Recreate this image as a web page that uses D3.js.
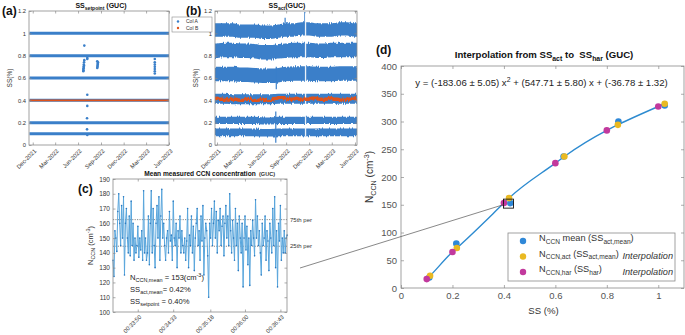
<!DOCTYPE html>
<html>
<head>
<meta charset="utf-8">
<script src="https://cdn.jsdelivr.net/npm/d3@7"></script>
<style>
  body { margin: 0; background: #fff; }
  svg { font-family: "Liberation Sans", Arial, sans-serif; display: block; }
  text { white-space: pre; }
</style>
</head>
<body>
<div id="chart"></div>
<script>
// ---------- data ----------
// shared date ticks for (a) and (b)
const monthTicks = ["Dec-2021", "Mar-2022", "Jun-2022", "Sep-2022", "Dec-2022", "Mar-2023", "Jun-2023"];
const ssTicks = [0, 0.2, 0.4, 0.6, 0.8, 1, 1.2];

// (a) SS setpoint
const setpointColA = [0.1, 0.2, 0.4, 0.6, 0.8, 1.0];
const setpointColB = [0.4];
const setpointSpan = ["2021-11-18", "2023-06-01"];
const offDates = ["2022-06-26", "2022-06-22", "2022-06-22", "2022-06-23", "2022-06-23", "2022-06-24", "2022-06-24",
                  "2022-06-25", "2022-06-25", "2022-06-26", "2022-07-08", "2022-07-08", "2022-07-08", "2022-07-08",
                  "2022-07-07", "2022-07-07", "2022-07-08",
                  "2022-08-17", "2022-08-18", "2022-08-18", "2022-08-19", "2022-08-19", "2022-08-20", "2022-08-17",
                  "2023-04-05", "2023-04-05", "2023-04-05", "2023-04-05", "2023-04-05", "2023-04-05", "2023-04-05"];
const offValues = [0.89, 0.66, 0.68, 0.67, 0.70, 0.69, 0.72, 0.71, 0.74, 0.76, 0.78, 0.77, 0.45, 0.35,
                   0.24, 0.14, 0.09,
                   0.69, 0.70, 0.71, 0.72, 0.73, 0.74, 0.75,
                   0.64, 0.66, 0.68, 0.70, 0.72, 0.74, 0.77];

// (b) SS act: monthly band centres (Nov-2021 .. Jul-2023) and spreads
const bandMonths = ["2021-11", "2021-12", "2022-01", "2022-02", "2022-03", "2022-04", "2022-05", "2022-06", "2022-07",
                    "2022-08", "2022-09", "2022-10", "2022-11", "2022-12", "2023-01", "2023-02", "2023-03", "2023-04",
                    "2023-05", "2023-06", "2023-07"];
const act100 = [1.03, 1.03, 1.03, 1.03, 1.02, 1.02, 1.02, 1.01, 1.01, 1.02, 1.03, 1.03, 1.04, 1.04, 1.03, 1.03, 1.03, 1.04, 1.04, 1.03, 1.03];
const act080 = [0.845, 0.845, 0.85, 0.85, 0.845, 0.845, 0.84, 0.83, 0.83, 0.84, 0.845, 0.85, 0.85, 0.85, 0.845, 0.845, 0.85, 0.85, 0.85, 0.85, 0.85];
const act060 = [0.635, 0.635, 0.635, 0.635, 0.63, 0.63, 0.625, 0.62, 0.62, 0.625, 0.635, 0.64, 0.64, 0.64, 0.635, 0.635, 0.635, 0.64, 0.64, 0.64, 0.64];
const act040 = [0.415, 0.415, 0.415, 0.41, 0.41, 0.41, 0.41, 0.41, 0.41, 0.415, 0.415, 0.415, 0.415, 0.415, 0.415, 0.415, 0.415, 0.415, 0.415, 0.415, 0.415];
const act020 = [0.22, 0.22, 0.22, 0.22, 0.22, 0.22, 0.22, 0.215, 0.215, 0.22, 0.22, 0.22, 0.22, 0.22, 0.22, 0.22, 0.22, 0.22, 0.22, 0.22, 0.22];
const act010 = [0.113, 0.113, 0.113, 0.113, 0.113, 0.113, 0.113, 0.11, 0.11, 0.113, 0.113, 0.113, 0.113, 0.113, 0.113, 0.113, 0.113, 0.113, 0.113, 0.113, 0.113];
const actBands = [act100, act080, act060, act040, act020, act010];
const actSpread = [0.06, 0.065, 0.065, 0.045, 0.032, 0.034];
// Col B (15-day samples from 2021-11-15)
const actColB = [0.41, 0.42, 0.41, 0.41, 0.40, 0.41, 0.41, 0.40, 0.40, 0.41, 0.41, 0.40, 0.40, 0.41, 0.40, 0.39,
                 0.41, 0.42, 0.43, 0.42, 0.41, 0.41, 0.42, 0.41, 0.41, 0.41, 0.42, 0.42, 0.41, 0.41, 0.41, 0.42,
                 0.41, 0.41, 0.40, 0.41, 0.41, 0.42, 0.41, 0.41, 0.41];
const colBStart = "2021-11-15";
const colBStepDays = 15;
const spikeDates = ["2022-07-22", "2022-07-24", "2022-08-28", "2022-11-14"];
const spikeLow = [0.02, 0.50, 0.98, 1.05];
const spikeHigh = [0.30, 0.70, 1.14, 1.19];
const gapDates = ["2022-11-17"];
const gapRange = [0.08, 1.18];

// (c) mean measured CCN concentration
const cTickLabels = ["00:33:50", "00:34:33", "00:35:18", "00:36:00", "00:36:43"];
const cTimeDomain = ["00:33:20", "00:36:51"];
const sampleStepSec = 1.16;
const nccnSeries = [
  135, 124, 155, 150, 141, 168, 180, 160, 145, 172,
  150, 178, 125, 160, 170, 150, 140, 165, 138, 175,
  145, 160, 135, 150, 140, 145, 158, 137, 150, 142,
  155, 135, 182, 140, 150, 135, 140, 165, 132, 160,
  182, 140, 170, 145, 130, 160, 172, 150, 178, 135,
  165, 183, 150, 160, 145, 135, 150, 155, 140, 168,
  148, 152, 135, 175, 150, 145, 160, 130, 155, 150,
  165, 140, 155, 145, 140, 150, 135, 148, 170, 130,
  152, 145, 165, 140, 158, 128, 150, 160, 170, 145,
  155, 135, 165, 148, 172, 125, 150, 160, 155, 138,
  110, 160, 150, 170, 145, 160, 175, 150, 168, 140,
  162, 155, 170, 145, 158, 165, 138, 160, 172, 150,
  165, 145, 180, 155, 140, 162, 150, 135, 170, 145,
  160, 128, 165, 150, 140, 160, 117, 150, 165, 142,
  158, 132, 150, 118, 155, 145, 162, 150, 138, 176,
  150, 165, 145, 155, 140, 125, 160, 145, 150, 165,
  135, 155, 148, 128, 160, 150, 140, 170, 145, 178,
  130, 155, 117, 160, 148, 172, 135, 150, 140, 155,
  140, 150, 152
];
const pct75 = 162.5;
const pct25 = 144.5;

// (d) interpolation
const ssActMean = [0.11, 0.215, 0.425, 0.632, 0.845, 1.025];
const nccnMean = [19, 80, 153, 237, 300, 329];
const ssActInterp = [0.113, 0.217, 0.42, 0.635, 0.843, 1.025];
const nccnActInterp = [22, 72, 162, 237, 294, 332];
const ssHar = [0.1, 0.2, 0.4, 0.6, 0.8, 1.0];
const nccnHar = [16, 65, 153, 225, 284, 327];
const highlight = { ss: 0.418, n: 152 };

// ---------- setup ----------
const W = 685, H = 335;
const blue = "#3a7fc9", red = "#df531b";
const dBlue = "#2f88d8", dYellow = "#e9b922", dMagenta = "#c2399d", fitBlue = "#2d8bd0";
const axisGray = "#8a8a8a", textGray = "#333";
const parseDay = d3.timeParse("%Y-%m-%d");
const parseMonthNum = d3.timeParse("%Y-%m");
const parseMonth = d3.timeParse("%b-%Y");
const fmtMonth = d3.timeFormat("%b-%Y");

const svg = d3.select("#chart").append("svg").attr("width", W).attr("height", H);
const defs = svg.append("defs");

// ragged edges for the dense SS_act bands
const rag = defs.append("filter").attr("id", "rag").attr("x", "-5%").attr("y", "-5%").attr("width", "110%").attr("height", "110%");
rag.append("feTurbulence").attr("type", "fractalNoise").attr("baseFrequency", "1.3 0.05").attr("numOctaves", 2).attr("seed", 4).attr("result", "n");
rag.append("feDisplacementMap").attr("in", "SourceGraphic").attr("in2", "n").attr("scale", 3.5)
  .attr("xChannelSelector", "R").attr("yChannelSelector", "G");

function rich(text, parts, fs) {
  let off = 0;
  parts.forEach(p => {
    const kind = p[1] || "";
    const small = kind === "sub" || kind === "sup";
    const target = kind === "sub" ? fs * 0.32 : kind === "sup" ? -fs * 0.42 : 0;
    const ts = text.append("tspan")
      .attr("dy", (target - off).toFixed(2))
      .style("font-size", (small ? fs * 0.72 : fs) + "px")
      .text(p[0]);
    if (kind === "it") ts.style("font-style", "italic");
    off = target;
  });
  return text;
}

function styleAxis(sel, fs) {
  sel.select(".domain").remove();
  sel.selectAll(".tick line").attr("stroke", axisGray).attr("stroke-width", 0.7);
  sel.selectAll(".tick text").attr("fill", textGray).style("font-size", fs + "px");
}

function frame(g, w, h) {
  g.append("rect").attr("width", w).attr("height", h)
    .attr("fill", "none").attr("stroke", axisGray).attr("stroke-width", 0.8);
}

function panelLetter(x, y, s) {
  svg.append("text").attr("x", x).attr("y", y).attr("font-weight", "bold")
    .style("font-size", "12px").attr("fill", "#111").text(s);
}

function timePanel(left, right, top, bottom, domain, id) {
  const w = right - left, h = bottom - top;
  const g = svg.append("g").attr("transform", `translate(${left},${top})`);
  const x = d3.scaleTime().domain(domain).range([0, w]);
  const y = d3.scaleLinear().domain([0, 1.2]).range([h, 0]);
  defs.append("clipPath").attr("id", id).append("rect").attr("width", w).attr("height", h);
  const plot = g.append("g").attr("clip-path", `url(#${id})`);
  return { g, plot, x, y, w, h };
}

function timeAxes(P, ylabelX) {
  const { g, x, y, w, h } = P;
  const tv = monthTicks.map(parseMonth);
  g.append("g").attr("transform", `translate(0,${h})`)
    .call(d3.axisBottom(x).tickValues(tv).tickFormat(fmtMonth).tickSize(-2.5).tickPadding(2))
    .call(s => styleAxis(s, 5.8))
    .selectAll(".tick text")
      .attr("text-anchor", "end").attr("y", 0).attr("dy", "0.35em")
      .attr("transform", "translate(2,5) rotate(-45)");
  g.append("g").call(d3.axisTop(x).tickValues(tv).tickFormat("").tickSize(-2.5)).call(s => styleAxis(s, 5.8));
  g.append("g")
    .call(d3.axisLeft(y).tickValues(ssTicks).tickFormat(d3.format("~g")).tickSize(-2.5).tickPadding(3))
    .call(s => styleAxis(s, 5.8));
  g.append("g").attr("transform", `translate(${w},0)`)
    .call(d3.axisRight(y).tickValues(ssTicks).tickFormat("").tickSize(-2.5)).call(s => styleAxis(s, 5.8));
  frame(g, w, h);
  g.append("text").attr("transform", `translate(${ylabelX},${h / 2}) rotate(-90)`)
    .attr("text-anchor", "middle").style("font-size", "6.5px").attr("fill", textGray).text("SS(%)");
}

// ---------- (a) ----------
const A = timePanel(29, 169, 11, 145, [parseDay("2021-11-16"), parseDay("2023-06-01")], "clipA");
const spanA = setpointSpan.map(parseDay);
A.plot.selectAll("line.colA").data(setpointColA).enter().append("line")
  .attr("class", "colA")
  .attr("x1", A.x(spanA[0])).attr("x2", A.x(spanA[1]))
  .attr("y1", d => A.y(d)).attr("y2", d => A.y(d))
  .attr("stroke", blue).attr("stroke-width", 3);
A.plot.selectAll("circle.off").data(offDates.map((d, i) => ({ d: parseDay(d), v: offValues[i] }))).enter()
  .append("circle").attr("class", "off")
  .attr("cx", d => A.x(d.d)).attr("cy", d => A.y(d.v)).attr("r", 1.3).attr("fill", blue);
A.plot.selectAll("line.colB").data(setpointColB).enter().append("line")
  .attr("class", "colB")
  .attr("x1", A.x(spanA[0])).attr("x2", A.x(spanA[1]))
  .attr("y1", d => A.y(d)).attr("y2", d => A.y(d))
  .attr("stroke", red).attr("stroke-width", 1.6);
timeAxes(A, -17);
rich(svg.append("text").attr("x", 101).attr("y", 8).attr("text-anchor", "middle")
  .attr("font-weight", "bold").attr("fill", "#111"), [["SS"], ["setpoint", "sub"], [" (GUC)"]], 7);
panelLetter(2, 15, "(a)");

// ---------- (b) ----------
const B = timePanel(215, 357, 11, 145, [parseDay("2021-11-23"), parseDay("2023-06-09")], "clipB");
const months = bandMonths.map(parseMonthNum);
const bandLayer = B.plot.append("g").attr("filter", "url(#rag)");
actBands.forEach((band, bi) => {
  const pts = band.map((c, i) => ({ d: months[i], c: c }));
  const hw = actSpread[bi];
  bandLayer.append("path").datum(pts)
    .attr("fill", blue)
    .attr("d", d3.area().curve(d3.curveMonotoneX).x(d => B.x(d.d))
      .y0(d => B.y(d.c - hw)).y1(d => B.y(d.c + hw)));
});
spikeDates.forEach((s, i) => {
  B.plot.append("line")
    .attr("x1", B.x(parseDay(s))).attr("x2", B.x(parseDay(s)))
    .attr("y1", B.y(spikeLow[i])).attr("y2", B.y(spikeHigh[i]))
    .attr("stroke", blue).attr("stroke-width", 1.2);
});
gapDates.forEach(s => {
  B.plot.append("line")
    .attr("x1", B.x(parseDay(s))).attr("x2", B.x(parseDay(s)))
    .attr("y1", B.y(gapRange[0])).attr("y2", B.y(gapRange[1]))
    .attr("stroke", "#fff").attr("stroke-width", 1.3).attr("opacity", 0.9);
});
const colBStartDate = parseDay(colBStart);
const colBPts = actColB.map((v, i) => ({ d: d3.timeDay.offset(colBStartDate, i * colBStepDays), v: v }));
B.plot.append("path").datum(colBPts)
  .attr("fill", "none").attr("stroke", red).attr("stroke-width", 3.4).attr("filter", "url(#rag)")
  .attr("d", d3.line().curve(d3.curveMonotoneX).x(d => B.x(d.d)).y(d => B.y(d.v)));
timeAxes(B, -17);
rich(svg.append("text").attr("x", 287).attr("y", 8).attr("text-anchor", "middle")
  .attr("font-weight", "bold").attr("fill", "#111"), [["SS"], ["act", "sub"], ["(GUC)"]], 7);
panelLetter(186, 15, "(b)");

// legend shared by (a) and (b)
const leg = svg.append("g").attr("transform", "translate(172,17)");
leg.append("rect").attr("width", 40).attr("height", 15).attr("fill", "#fff").attr("stroke", axisGray).attr("stroke-width", 0.6);
[["Col A", blue], ["Col B", red]].forEach((e, i) => {
  leg.append("circle").attr("cx", 6).attr("cy", 4.5 + i * 6.5).attr("r", 1.2).attr("fill", e[1]);
  leg.append("text").attr("x", 14).attr("y", 4.5 + i * 6.5).attr("dy", "0.35em")
    .style("font-size", "5px").attr("fill", textGray).text(e[0]);
});

// ---------- (c) ----------
const toSec = s => { const p = s.split(":").map(Number); return p[0] * 3600 + p[1] * 60 + p[2]; };
const fmtSec = s => { const m = Math.floor(s / 60), r = Math.round(s - m * 60); return "00:" + m + ":" + String(r).padStart(2, "0"); };
const cL = 113, cR = 287, cT = 179, cB = 312;
const cw = cR - cL, ch = cB - cT;
const gc = svg.append("g").attr("transform", `translate(${cL},${cT})`);
const xc = d3.scaleLinear().domain(cTimeDomain.map(toSec)).range([0, cw]);
const yc = d3.scaleLinear().domain([100, 190]).range([ch, 0]);
const t0 = toSec(cTimeDomain[0]);
const cPts = nccnSeries.map((v, i) => ({ t: t0 + i * sampleStepSec, v: v }));

[pct75, pct25].forEach(p => {
  gc.append("line").attr("x1", 0).attr("x2", cw).attr("y1", yc(p)).attr("y2", yc(p))
    .attr("stroke", "#555").attr("stroke-width", 0.7).attr("stroke-dasharray", "1.2,1.2");
});
gc.append("path").datum(cPts)
  .attr("fill", "none").attr("stroke", "#5aa6dc").attr("stroke-width", 1)
  .attr("d", d3.line().x(d => xc(d.t)).y(d => yc(d.v)));
gc.selectAll("circle.pt").data(cPts).enter().append("circle").attr("class", "pt")
  .attr("cx", d => xc(d.t)).attr("cy", d => yc(d.v)).attr("r", 0.8).attr("fill", "#2a78bf");

gc.append("g").attr("transform", `translate(0,${ch})`)
  .call(d3.axisBottom(xc).tickValues(cTickLabels.map(toSec)).tickFormat(fmtSec).tickSize(-2.5).tickPadding(2))
  .call(s => styleAxis(s, 5.8))
  .selectAll(".tick text")
    .attr("text-anchor", "end").attr("y", 0).attr("dy", "0.35em")
    .attr("transform", "translate(2,4) rotate(-45)");
gc.append("g").call(d3.axisTop(xc).tickValues(cTickLabels.map(toSec)).tickFormat("").tickSize(-2.5)).call(s => styleAxis(s, 6));
gc.append("g").call(d3.axisLeft(yc).ticks(10).tickSize(-2.5).tickPadding(3)).call(s => styleAxis(s, 6.5));
gc.append("g").attr("transform", `translate(${cw},0)`)
  .call(d3.axisRight(yc).ticks(10).tickFormat("").tickSize(-2.5)).call(s => styleAxis(s, 6.5));
frame(gc, cw, ch);

gc.append("text").attr("x", cw + 3).attr("y", yc(pct75)).attr("dy", "0.35em")
  .style("font-size", "6px").attr("fill", textGray).text("75th per");
gc.append("text").attr("x", cw + 3).attr("y", yc(pct25)).attr("dy", "0.35em")
  .style("font-size", "6px").attr("fill", textGray).text("25th per");
rich(gc.append("text").attr("transform", `translate(-20,${ch / 2}) rotate(-90)`)
  .attr("text-anchor", "middle").attr("fill", textGray), [["N"], ["CCN", "sub"], [" (cm"], ["-3", "sup"], [")"]], 7.5);
rich(gc.append("text").attr("x", 17).attr("y", 101).attr("fill", "#222"),
  [["N"], ["CCN,mean", "sub"], [" = 153(cm"], ["-3", "sup"], [")"]], 7.6);
rich(gc.append("text").attr("x", 17).attr("y", 113).attr("fill", "#222"),
  [["SS"], ["act,mean", "sub"], ["= 0.42%"]], 7.6);
rich(gc.append("text").attr("x", 17).attr("y", 125).attr("fill", "#222"),
  [["SS"], ["setpoint", "sub"], [" = 0.40%"]], 7.6);
svg.append("text").attr("x", 200).attr("y", 176).attr("text-anchor", "middle").attr("font-weight", "bold")
  .style("font-size", "6.6px").attr("fill", "#111").text("Mean measured CCN concentration");
svg.append("text").attr("x", 259).attr("y", 176).attr("font-weight", "bold")
  .style("font-size", "5.6px").attr("fill", "#333").text("(GUC)");
panelLetter(78, 193, "(c)");

// ---------- (d) ----------
const dL = 401, dR = 684, dT = 66, dB = 288;
const dw = dR - dL, dh = dB - dT;
const gd = svg.append("g").attr("transform", `translate(${dL},${dT})`);
const xd = d3.scaleLinear().domain([0, 1.1]).range([0, dw]);
const yd = d3.scaleLinear().domain([0, 400]).range([dh, 0]);

gd.append("g").attr("transform", `translate(0,${dh})`)
  .call(d3.axisBottom(xd).tickValues([0, 0.2, 0.4, 0.6, 0.8, 1]).tickFormat(d3.format("~g")).tickSize(-3).tickPadding(4))
  .call(s => styleAxis(s, 9.5));
gd.append("g").call(d3.axisTop(xd).tickValues([0, 0.2, 0.4, 0.6, 0.8, 1]).tickFormat("").tickSize(-3)).call(s => styleAxis(s, 9.5));
gd.append("g").call(d3.axisLeft(yd).ticks(8).tickSize(-3).tickPadding(4)).call(s => styleAxis(s, 9.5));
gd.append("g").attr("transform", `translate(${dw},0)`)
  .call(d3.axisRight(yd).ticks(8).tickFormat("").tickSize(-3)).call(s => styleAxis(s, 9.5));
frame(gd, dw, dh);
gd.selectAll(".tick text").attr("fill", "#555");

// fitted curve through the interpolated points
const fitPts = ssHar.map((s, i) => ({ s: s, n: nccnHar[i] }))
  .concat(ssActInterp.map((s, i) => ({ s: s, n: nccnActInterp[i] })))
  .sort((a, b) => a.s - b.s);
gd.append("path").datum(fitPts)
  .attr("fill", "none").attr("stroke", fitBlue).attr("stroke-width", 1.4)
  .attr("d", d3.line().curve(d3.curveMonotoneX).x(d => xd(d.s)).y(d => yd(d.n)));

const series = [
  { xs: ssActMean, ys: nccnMean, c: dBlue },
  { xs: ssActInterp, ys: nccnActInterp, c: dYellow },
  { xs: ssHar, ys: nccnHar, c: dMagenta }
];
series.forEach(sr => {
  gd.selectAll(null).data(sr.xs.map((s, i) => [s, sr.ys[i]])).enter().append("circle")
    .attr("cx", d => xd(d[0])).attr("cy", d => yd(d[1])).attr("r", 3.3).attr("fill", sr.c);
});

// highlighted point and link to (c)
const hx = xd(highlight.ss), hy = yd(highlight.n);
gd.append("rect").attr("x", hx - 5).attr("y", hy - 4.5).attr("width", 10).attr("height", 9)
  .attr("fill", "none").attr("stroke", "#111").attr("stroke-width", 0.9);
svg.append("line").attr("x1", cR + 13).attr("y1", 268).attr("x2", dL + hx - 5).attr("y2", dT + hy + 1)
  .attr("stroke", "#555").attr("stroke-width", 0.7);

// legend
const lg = gd.append("g").attr("transform", `translate(${508 - dL},${233 - dT})`);
lg.append("rect").attr("width", 167).attr("height", 48).attr("fill", "#fff").attr("stroke", axisGray).attr("stroke-width", 0.8);
const legRows = [
  { c: dBlue, parts: [["N"], ["CCN", "sub"], [" mean (SS"], ["act,mean", "sub"], [")"]], it: "" },
  { c: dYellow, parts: [["N"], ["CCN,act", "sub"], [" (SS"], ["act,mean", "sub"], [")"]], it: "Interpolation" },
  { c: dMagenta, parts: [["N"], ["CCN,har", "sub"], [" (SS"], ["har", "sub"], [")"]], it: "Interpolation" }
];
legRows.forEach((r, i) => {
  const yy = 8 + i * 15.5;
  lg.append("circle").attr("cx", 15).attr("cy", yy).attr("r", 3.2).attr("fill", r.c);
  rich(lg.append("text").attr("x", 31).attr("y", yy).attr("dy", "0.3em").attr("fill", "#333"), r.parts, 9.2);
  if (r.it) lg.append("text").attr("x", 165).attr("y", yy).attr("dy", "0.3em").attr("text-anchor", "end")
    .style("font-size", "9.2px").style("font-style", "italic").attr("fill", "#333").text(r.it);
});

rich(gd.append("text").attr("x", dw / 2 - 1).attr("y", 20).attr("text-anchor", "middle").attr("fill", "#222"),
  [["y = (-183.06 \u00b1 5.05) x"], ["2", "sup"], [" + (547.71 \u00b1 5.80) x + (-36.78 \u00b1 1.32)"]], 9.6);
rich(svg.append("text").attr("x", 544).attr("y", 58).attr("text-anchor", "middle").attr("font-weight", "bold").attr("fill", "#111"),
  [["Interpolation from SS"], ["act", "sub"], [" to  SS"], ["har", "sub"], [" (GUC)"]], 9.6);
rich(svg.append("text").attr("transform", `translate(373,${dT + dh / 2}) rotate(-90)`)
  .attr("text-anchor", "middle").attr("fill", "#333"), [["N"], ["CCN", "sub"], [" (cm"], ["-3", "sup"], [")"]], 10);
svg.append("text").attr("x", dL + dw / 2 + 1).attr("y", 314).attr("text-anchor", "middle")
  .style("font-size", "9.6px").attr("fill", "#333").text("SS (%)");
panelLetter(376, 54, "(d)");
</script>
</body>
</html>
